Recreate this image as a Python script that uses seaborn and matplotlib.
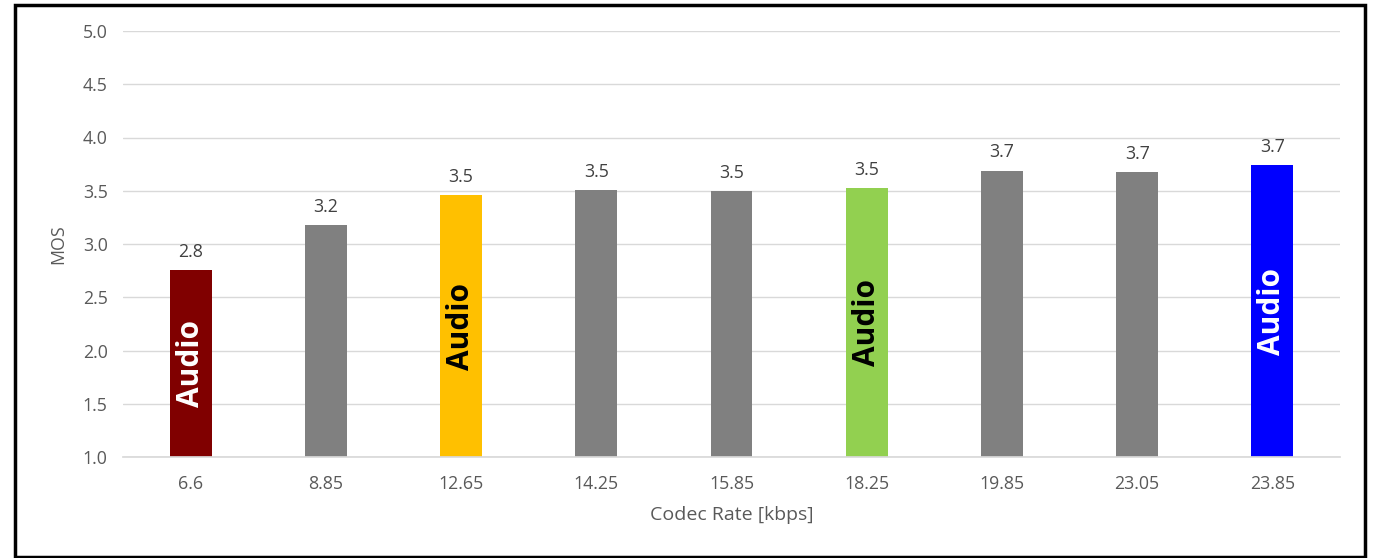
import matplotlib
matplotlib.use("Agg")
import matplotlib.pyplot as plt
from matplotlib.patches import Rectangle
import seaborn as sns
import pandas as pd

# Codec rates and mean opinion scores
rates = ["6.6", "8.85", "12.65", "14.25", "15.85", "18.25", "19.85", "23.05", "23.85"]
mos = [2.76, 3.18, 3.46, 3.51, 3.50, 3.53, 3.69, 3.68, 3.74]
bar_colors = ["#800000", "#808080", "#FFC000", "#808080", "#808080",
              "#92D050", "#808080", "#808080", "#0000FF"]
# Bars tagged with an in-bar caption, and the caption colour
tagged = {0: "white", 2: "black", 5: "black", 8: "white"}
tag_text = "Audio"

sns.set_theme(style="white")
plt.rcParams["font.family"] = ["Open Sans", "DejaVu Sans"]

df = pd.DataFrame({"rate": rates, "mos": mos})

fig = plt.figure(figsize=(13.75, 5.58), dpi=100)
ax = fig.add_axes([123 / 1375, 1 - 457 / 558, (1340 - 123) / 1375, (457 - 31) / 558])

sns.barplot(data=df, x="rate", y="mos", hue="rate", palette=bar_colors,
            legend=False, width=0.31, ax=ax, saturation=1, linewidth=0)

ax.set_ylim(1.0, 5.0)
ax.set_yticks([1.0, 1.5, 2.0, 2.5, 3.0, 3.5, 4.0, 4.5, 5.0])
ax.set_yticklabels([f"{v:.1f}" for v in ax.get_yticks()])
ax.yaxis.grid(True, color="#D9D9D9", linewidth=1)
ax.set_axisbelow(True)
for s in ["top", "right", "left"]:
    ax.spines[s].set_visible(False)
ax.spines["bottom"].set_color("#D9D9D9")
ax.tick_params(axis="both", length=0, labelsize=12.8, colors="#595959")
ax.tick_params(axis="x", pad=13)
ax.tick_params(axis="y", pad=11)

ax.set_xlabel("Codec Rate [kbps]", fontsize=14, color="#595959", labelpad=9)
ax.set_ylabel("MOS", fontsize=12.8, color="#595959", labelpad=11)

for i, v in enumerate(mos):
    ax.text(i, v + 0.085, f"{v:.1f}", ha="center", va="bottom",
            fontsize=12.8, color="#404040")
    if i in tagged:
        ax.text(i, (1.0 + v) / 2, tag_text, rotation=90, ha="center", va="center",
                fontsize=21.5, fontweight="bold", color=tagged[i])

# Black frame around the whole chart
fig.patches.append(Rectangle((14.5 / 1375, 1 - 556.5 / 558), (1365 - 14.5) / 1375, (556.5 - 5) / 558,
                             transform=fig.transFigure, fill=False,
                             edgecolor="black", linewidth=2.5))

fig.savefig("out.png", dpi=100, facecolor="white")
